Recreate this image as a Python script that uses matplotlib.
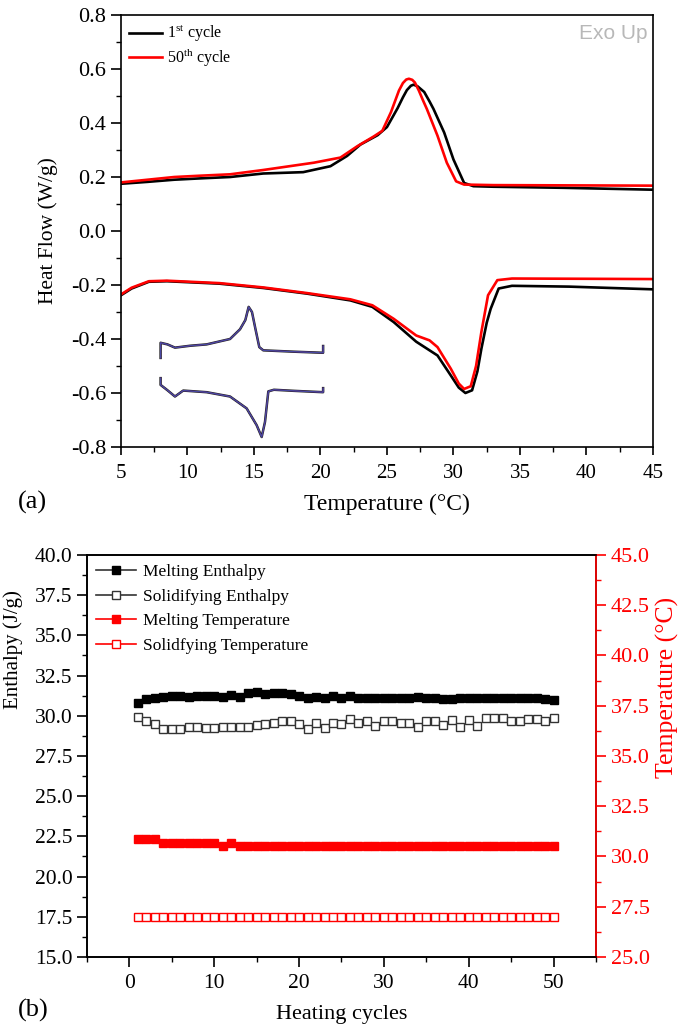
import matplotlib
matplotlib.use("Agg")
import matplotlib.pyplot as plt
from matplotlib.lines import Line2D
from matplotlib.ticker import MultipleLocator, FormatStrFormatter

plt.rcParams['font.family'] = ['Liberation Serif', 'DejaVu Serif']
plt.rcParams['mathtext.fontset'] = 'custom'
plt.rcParams['mathtext.rm'] = 'Liberation Serif'

# ---- (a) DSC curves ----
# heating branch (exo up), 1st and 50th cycle
heat1_T = [5, 7, 9, 11, 13.2, 15.7, 18.7, 20.75, 22.0, 23.0, 24.3, 25.0, 25.8,
           26.2, 26.5, 26.8, 27.0, 27.3, 27.8, 28.2, 28.5, 29.3, 30.0, 30.8,
           31.5, 33, 38.3, 45]
heat1_v = [0.175, 0.182, 0.19, 0.195, 0.20, 0.213, 0.218, 0.24, 0.278, 0.32,
           0.355, 0.385, 0.455, 0.495, 0.522, 0.538, 0.542, 0.536, 0.515,
           0.48, 0.452, 0.365, 0.265, 0.178, 0.166, 0.164, 0.16, 0.153]
heat50_T = [5, 7, 9, 11, 13.2, 15.7, 19.5, 21.5, 22.8, 24.0, 24.65, 25.3, 25.9,
            26.2, 26.45, 26.65, 26.9, 27.1, 27.4, 27.7, 28.0, 28.8, 29.5, 30.2,
            30.8, 33, 45]
heat50_v = [0.18, 0.19, 0.2, 0.205, 0.21, 0.226, 0.253, 0.272, 0.315, 0.35,
            0.371, 0.44, 0.52, 0.548, 0.561, 0.564, 0.56, 0.55, 0.52, 0.485,
            0.452, 0.353, 0.253, 0.184, 0.172, 0.17, 0.168]
# cooling branch
cool1_T = [5, 5.8, 7.1, 8.45, 12.4, 15.7, 19.0, 22.25, 23.9, 25.5, 27.2, 28.8,
           29.8, 30.4, 30.9, 31.4, 31.8, 32.1, 32.5, 32.8, 33.4, 34.4, 38.7, 45]
cool1_v = [-0.238, -0.213, -0.188, -0.186, -0.195, -0.211, -0.232, -0.257,
           -0.281, -0.337, -0.41, -0.461, -0.535, -0.58, -0.600, -0.59, -0.52,
           -0.436, -0.34, -0.288, -0.213, -0.203, -0.206, -0.216]
cool50_T = [5, 5.8, 7.1, 8.45, 12.4, 15.7, 19.0, 22.25, 23.9, 25.5, 27.2, 28.2,
            28.8, 29.8, 30.4, 30.8, 31.3, 31.7, 32.1, 32.6, 33.3, 34.4, 40, 45]
cool50_v = [-0.235, -0.21, -0.186, -0.184, -0.193, -0.209, -0.23, -0.253,
            -0.275, -0.325, -0.387, -0.405, -0.43, -0.51, -0.565, -0.585,
            -0.575, -0.5, -0.374, -0.238, -0.182, -0.176, -0.177, -0.178]

# small overview inset (all cycles)
inset_up_T = [7.98, 7.98, 8.5, 9.06, 10.2, 11.44, 13.2, 13.95, 14.35, 14.6,
              14.85, 15.1, 15.4, 15.7, 18.0, 20.2, 20.2]
inset_up_v = [-0.47, -0.414, -0.42, -0.432, -0.425, -0.42, -0.40, -0.364,
              -0.33, -0.281, -0.3, -0.36, -0.43, -0.442, -0.447, -0.451, -0.426]
inset_lo_T = [7.98, 7.98, 8.5, 9.06, 9.68, 11.44, 13.2, 14.45, 15.2, 15.58,
              15.83, 16.08, 16.5, 18.0, 20.2, 20.2]
inset_lo_v = [-0.545, -0.57, -0.59, -0.613, -0.591, -0.597, -0.613, -0.657,
              -0.719, -0.763, -0.707, -0.594, -0.588, -0.592, -0.597, -0.582]

# ---- (b) cycling data ----
cycles = list(range(1, 51))
melt_enthalpy = [30.77, 31.04, 31.10, 31.19, 31.23, 31.25, 31.15, 31.25, 31.21,
                 31.21, 31.19, 31.31, 31.19, 31.42, 31.46, 31.33, 31.42, 31.44,
                 31.33, 31.25, 31.10, 31.19, 31.13, 31.21, 31.13, 31.23, 31.10,
                 31.13, 31.13, 31.13, 31.13, 31.13, 31.08, 31.19, 31.13, 31.10,
                 31.06, 31.06, 31.08, 31.10, 31.13, 31.08, 31.10, 31.13, 31.10,
                 31.08, 31.13, 31.08, 31.02, 31.00]
solid_enthalpy = [29.90, 29.69, 29.48, 29.17, 29.17, 29.17, 29.31, 29.31, 29.25,
                  29.25, 29.33, 29.31, 29.31, 29.31, 29.44, 29.50, 29.58, 29.65,
                  29.69, 29.48, 29.17, 29.54, 29.23, 29.54, 29.50, 29.79, 29.54,
                  29.69, 29.38, 29.69, 29.69, 29.52, 29.54, 29.33, 29.69, 29.69,
                  29.42, 29.73, 29.33, 29.73, 29.38, 29.83, 29.85, 29.83, 29.65,
                  29.65, 29.79, 29.79, 29.69, 29.83]
melt_temp = [30.85, 30.85, 30.85] + [30.68] * 7 + [30.5, 30.68] + [30.5] * 38
solid_temp = [27.0] * 50

fig = plt.figure(figsize=(6.85, 10.29), dpi=100)

# ---------------- panel (a) ----------------
ax = fig.add_axes([0.1766, 0.5656, 0.7766, 0.4198])
ax.plot(heat1_T, heat1_v, color='black', lw=1.9, label='1$^{\\mathrm{st}}$ cycle')
ax.plot(heat50_T, heat50_v, color='red', lw=1.9, label='50$^{\\mathrm{th}}$ cycle')
ax.plot(cool1_T, cool1_v, color='black', lw=1.9)
ax.plot(cool50_T, cool50_v, color='red', lw=1.9)

# inset overview is a stack of many coloured cycles
for col, lw in [('#222222', 1.8), ('#6a3aa8', 0.9), ('#3a4fa0', 0.5)]:
    ax.plot(inset_up_T, inset_up_v, color=col, lw=lw)
    ax.plot(inset_lo_T, inset_lo_v, color=col, lw=lw)

ax.set_xlim(5, 45)
ax.set_ylim(-0.8, 0.8)
ax.xaxis.set_major_locator(MultipleLocator(5))
ax.xaxis.set_minor_locator(MultipleLocator(2.5))
ax.yaxis.set_major_locator(MultipleLocator(0.2))
ax.yaxis.set_minor_locator(MultipleLocator(0.1))
ax.yaxis.set_major_formatter(FormatStrFormatter('%.1f'))
ax.tick_params(axis='x', which='major', direction='out', length=6, width=1.2,
               labelsize=15, pad=6)
ax.tick_params(axis='y', which='major', direction='out', length=7, width=1.2, labelsize=16)
ax.tick_params(which='minor', direction='out', length=3.5, width=1.0)
for s in ax.spines.values():
    s.set_linewidth(1.2)
ax.set_xlabel('Temperature (\u00b0C)', fontsize=17)
ax.xaxis.set_label_coords(0.5, -0.108)
ax.set_ylabel('Heat Flow (W/g)', fontsize=15.5)
ax.yaxis.set_label_coords(-0.118, 0.5)
ax.legend(loc='upper left', frameon=False, fontsize=11.5, handlelength=2.1,
          handletextpad=0.3, labelspacing=0.1, borderaxespad=0.2,
          borderpad=0.3)
ax.text(0.99, 0.98, 'Exo Up', transform=ax.transAxes, ha='right', va='top',
        fontsize=15, color='#b8b8b8', family=['Liberation Sans', 'DejaVu Sans'])
fig.text(18 / 685, 1 - 502 / 1029, '(a)', fontsize=19, ha='left', va='center')

# ---------------- panel (b) ----------------
bx = fig.add_axes([0.127, 0.07, 0.743, 0.3907])
bx2 = bx.twinx()
ms = 6.2
bx.plot(cycles, melt_enthalpy, ls='none', marker='s', ms=ms, mfc='black',
        mec='black', mew=1.0)
bx.plot(cycles, solid_enthalpy, ls='none', marker='s', ms=ms, mfc='white',
        mec='#333333', mew=1.0)
bx2.plot(cycles, melt_temp, ls='none', marker='s', ms=ms, mfc='red',
         mec='red', mew=1.0)
bx2.plot(cycles, solid_temp, ls='none', marker='s', ms=ms, mfc='white',
         mec='red', mew=1.0)

bx.set_xlim(-5, 55)
bx.set_ylim(15, 40)
bx2.set_ylim(25, 45)
bx.xaxis.set_major_locator(MultipleLocator(10))
bx.xaxis.set_minor_locator(MultipleLocator(5))
bx.yaxis.set_major_locator(MultipleLocator(2.5))
bx.yaxis.set_minor_locator(MultipleLocator(1.25))
bx.yaxis.set_major_formatter(FormatStrFormatter('%.1f'))
bx2.yaxis.set_major_locator(MultipleLocator(2.5))
bx2.yaxis.set_minor_locator(MultipleLocator(1.25))
bx2.yaxis.set_major_formatter(FormatStrFormatter('%.1f'))
bx.tick_params(which='major', direction='out', length=7, width=1.2, labelsize=15.5)
bx.tick_params(axis='x', which='major', pad=5)
bx.tick_params(which='minor', direction='out', length=3.5, width=1.0)
bx2.tick_params(which='major', direction='out', length=7, width=1.2, labelsize=16,
                colors='red')
bx2.tick_params(which='minor', direction='out', length=3.5, width=1.0, colors='red')
for s in bx.spines.values():
    s.set_linewidth(1.2)
for s in bx2.spines.values():
    s.set_linewidth(1.2)
bx2.spines['right'].set_color('red')

bx.set_xlabel('Heating cycles', fontsize=16)
bx.xaxis.set_label_coords(0.5, -0.12)
bx.set_ylabel('Enthalpy (J/g)', fontsize=15)
bx.yaxis.set_label_coords(-0.125, 0.764)
bx2.set_ylabel('Temperature (\u00b0C)', fontsize=18.5, color='red')
bx2.yaxis.set_label_coords(1.118, 0.67)

handles = [
    Line2D([], [], color='#333333', lw=1.2, marker='s', ms=ms, mfc='black', mec='black'),
    Line2D([], [], color='#333333', lw=1.2, marker='s', ms=ms, mfc='white', mec='#333333'),
    Line2D([], [], color='red', lw=1.2, marker='s', ms=ms, mfc='red', mec='red'),
    Line2D([], [], color='red', lw=1.2, marker='s', ms=ms, mfc='white', mec='red'),
]
labels = ['Melting Enthalpy', 'Solidifying Enthalpy', 'Melting Temperature',
          'Solidfying Temperature']
bx.legend(handles, labels, loc='upper left', frameon=False, fontsize=12.5,
          handlelength=2.3, handletextpad=0.4, labelspacing=0.5,
          borderaxespad=0.2, borderpad=0.3)
fig.text(18 / 685, 1 - 1010 / 1029, '(b)', fontsize=19, ha='left', va='center')

fig.savefig('out.png', dpi=100)
